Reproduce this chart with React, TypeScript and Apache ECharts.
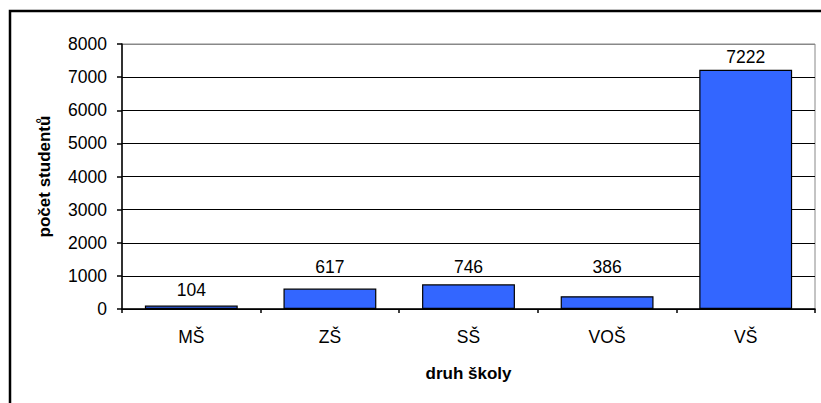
import React, { useEffect, useRef } from "react";
import * as echarts from "echarts";

const categories = ["MŠ", "ZŠ", "SŠ", "VOŠ", "VŠ"];
const students = [104, 617, 746, 386, 7222];
const yTicks = { min: 0, max: 8000, interval: 1000 };
const xName = "druh školy";
const yName = "počet studentů";

// label gap (px) above each bar, as placed in the original
const labelGaps = [6.5, 12.5, 8.5, 20, 4];

export default function App() {
  const ref = useRef<HTMLDivElement>(null);
  useEffect(() => {
    const chart = echarts.init(ref.current!, null, { renderer: "svg" });
    const font = "Arial, 'Liberation Sans', sans-serif";
    chart.setOption({
      animation: false,
      backgroundColor: "#fff",
      graphic: [
        {
          type: "rect",
          shape: { x: 10, y: 11, width: 1000, height: 600 },
          style: { fill: "none", stroke: "#000", lineWidth: 2.5 },
          silent: true,
        },
      ],
      grid: {
        left: 122,
        right: 6,
        top: 44,
        bottom: 94,
        show: true,
        borderColor: "#888",
        borderWidth: 1,
        backgroundColor: "transparent",
      },
      xAxis: {
        type: "category",
        data: categories,
        name: xName,
        nameLocation: "middle",
        nameGap: 56,
        nameTextStyle: { fontFamily: font, fontSize: 17, fontWeight: "bold", color: "#000" },
        axisLine: { lineStyle: { color: "#000", width: 1.5 } },
        axisTick: { show: true, length: 4, alignWithLabel: false, lineStyle: { color: "#000", width: 1.5 } },
        axisLabel: { margin: 19, fontFamily: font, fontSize: 17.5, color: "#000" },
      },
      yAxis: {
        type: "value",
        min: yTicks.min,
        max: yTicks.max,
        interval: yTicks.interval,
        name: yName,
        nameLocation: "middle",
        nameRotate: 90,
        nameGap: 69,
        nameTextStyle: { fontFamily: font, fontSize: 17, fontWeight: "bold", color: "#000" },
        axisLine: { show: true, lineStyle: { color: "#000", width: 1.5 } },
        axisTick: { show: true, length: 5, lineStyle: { color: "#000", width: 1.5 } },
        axisLabel: {
          margin: 15,
          fontFamily: font,
          fontSize: 17.5,
          color: "#000",
          formatter: (v: number) => String(v),
        },
        splitLine: {
          show: true,
          lineStyle: {
            color: ["#000", "#000", "#000", "#000", "#000", "#000", "#000", "#000", "#888"],
            width: 1,
          },
        },
      },
      series: [
        {
          type: "bar",
          data: students.map((v, i) => ({
            value: v,
            label: { distance: labelGaps[i] },
          })),
          barCategoryGap: "33%",
          itemStyle: { color: "#3366FF", borderColor: "#000", borderWidth: 1.2 },
          label: {
            show: true,
            position: "top",
            distance: 4,
            fontFamily: font,
            fontSize: 17.5,
            color: "#000",
          },
        },
      ],
    });
    return () => chart.dispose();
  }, []);
  return (
    <div
      ref={ref}
      style={{ position: "fixed", left: 0, top: 0, width: 821, height: 403 }}
    />
  );
}
